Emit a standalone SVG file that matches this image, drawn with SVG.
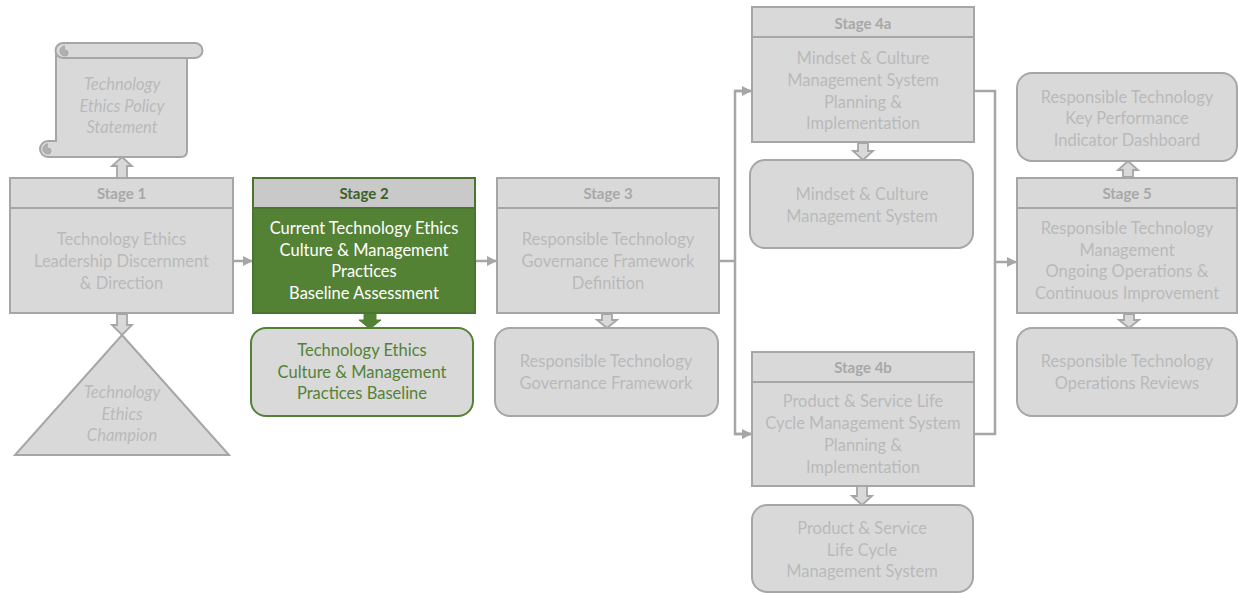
<svg xmlns="http://www.w3.org/2000/svg" width="1238" height="593" viewBox="0 0 1238 593">
<defs>
<style>
.box{fill:#d9d9d9;stroke:#a6a6a6;stroke-width:2}
.hdr{font-family:Lato,"Open Sans",sans-serif;font-weight:bold;font-size:15px;fill:#a8a8a8;text-anchor:middle}
.txt{font-family:Lato,"Open Sans",sans-serif;font-size:16.5px;fill:#b9b9b9;text-anchor:middle}
.it{font-style:italic}
.conn{fill:none;stroke:#a6a6a6;stroke-width:2.5}
.barrow{fill:#d9d9d9;stroke:#a6a6a6;stroke-width:1.8}
</style>
<marker id="ah" viewBox="0 0 10 10" refX="9" refY="5" markerWidth="4" markerHeight="4" orient="auto" markerUnits="strokeWidth">
<path d="M0,0 L10,5 L0,10 Z" fill="#a6a6a6"/>
</marker>
</defs>
<rect width="1238" height="593" fill="#ffffff"/>

<g id="connectors">
<line class="conn" x1="233" y1="261" x2="252" y2="261" marker-end="url(#ah)"/>
<line class="conn" x1="475" y1="261" x2="496" y2="261" marker-end="url(#ah)"/>
<polyline class="conn" points="719,261 735,261"/>
<polyline class="conn" points="751,91 735,91 735,434 751,434" stroke-linejoin="miter"/>
<line class="conn" x1="735" y1="91" x2="751" y2="91" marker-end="url(#ah)"/>
<line class="conn" x1="735" y1="434" x2="751" y2="434" marker-end="url(#ah)"/>
<polyline class="conn" points="974,91 995,91 995,434 974,434"/>
<line class="conn" x1="995" y1="262" x2="1016" y2="262" marker-end="url(#ah)"/>
<path class="barrow" d="M117,178 L117,166 L112,166 L122,157 L132,166 L127,166 L127,178 Z"/>
<path class="barrow" d="M117,314 L127,314 L127,325 L132,325 L122,335 L112,325 L117,325 Z"/>
<path d="M364,313 L376,313 L376,320 L381,320 L370,329 L359,320 L364,320 Z" fill="#548235" stroke="#548235" stroke-width="1"/>
<path class="barrow" d="M602,314 L612,314 L612,320 L617,320 L607,328 L597,320 L602,320 Z"/>
<path class="barrow" d="M858,143 L868,143 L868,151 L873,151 L863,160 L853,151 L858,151 Z"/>
<path class="barrow" d="M857,486 L867,486 L867,496 L872,496 L862,505 L852,496 L857,496 Z"/>
<path class="barrow" d="M1123,177 L1123,170 L1118,170 L1128,161 L1138,170 L1133,170 L1133,177 Z"/>
<path class="barrow" d="M1124,314 L1134,314 L1134,320 L1139,320 L1129,328 L1119,320 L1124,320 Z"/>
</g>

<g id="policy-statement">
<path class="box" d="M56,52 L187,52 L187,151 Q187,157 181,157 L48,157 A8,8 0 0 1 48,141 L56,141 Z"/>
<path d="M48,144 A5,5 0 0 0 48,154 A3,3 0 0 0 48,148" fill="#b0b0b0" stroke="#a6a6a6" stroke-width="1"/>
<path class="box" d="M63,43 L195,43 A7.5,7.5 0 0 1 195,58 L63,58 A7.5,7.5 0 0 1 63,43 Z"/>
<path d="M65,46 A5,5 0 0 0 65,56 A3,3 0 0 0 65,50" fill="#b0b0b0" stroke="#a6a6a6" stroke-width="1"/>
<text class="txt it" x="122" y="90">Technology</text>
<text class="txt it" x="122" y="111.5">Ethics Policy</text>
<text class="txt it" x="122" y="133">Statement</text>
</g>

<g id="stage1">
<rect class="box" x="10" y="178" width="223" height="30"/>
<rect class="box" x="10" y="208" width="223" height="105"/>
<text class="hdr" x="121.5" y="199">Stage 1</text>
<text class="txt" x="121.5" y="245">Technology Ethics</text>
<text class="txt" x="121.5" y="267">Leadership Discernment</text>
<text class="txt" x="121.5" y="289">&amp; Direction</text>
</g>

<g id="ethics-champion">
<path class="box" d="M122,335 L229,455 L15,455 Z"/>
<text class="txt it" x="122" y="398">Technology</text>
<text class="txt it" x="122" y="420">Ethics</text>
<text class="txt it" x="122" y="441">Champion</text>
</g>

<g id="stage2">
<rect x="253" y="178" width="222" height="30" fill="#c9c9c9" stroke="#4a7530" stroke-width="2"/>
<rect x="253" y="208" width="222" height="105" fill="#548235" stroke="#4a7530" stroke-width="2"/>
<text class="hdr" x="364" y="199" style="fill:#3d5f28">Stage 2</text>
<text class="txt" x="364" y="234" style="fill:#ffffff">Current Technology Ethics</text>
<text class="txt" x="364" y="256" style="fill:#ffffff">Culture &amp; Management</text>
<text class="txt" x="364" y="277" style="fill:#ffffff">Practices</text>
<text class="txt" x="364" y="299" style="fill:#ffffff">Baseline Assessment</text>
</g>

<g id="stage2-output">
<rect x="251" y="328" width="222" height="88" rx="15" fill="#d9d9d9" stroke="#548235" stroke-width="2"/>
<text class="txt" x="362" y="356" style="fill:#548235">Technology Ethics</text>
<text class="txt" x="362" y="377.5" style="fill:#548235">Culture &amp; Management</text>
<text class="txt" x="362" y="399" style="fill:#548235">Practices Baseline</text>
</g>

<g id="stage3">
<rect class="box" x="497" y="178" width="222" height="30"/>
<rect class="box" x="497" y="208" width="222" height="105"/>
<text class="hdr" x="608" y="199">Stage 3</text>
<text class="txt" x="608" y="245">Responsible Technology</text>
<text class="txt" x="608" y="267">Governance Framework</text>
<text class="txt" x="608" y="289">Definition</text>
</g>

<g id="stage3-output">
<rect class="box" x="495" y="328" width="223" height="88" rx="15"/>
<text class="txt" x="606" y="366.5">Responsible Technology</text>
<text class="txt" x="606" y="388.5">Governance Framework</text>
</g>

<g id="stage4a">
<rect class="box" x="752" y="7" width="222" height="30"/>
<rect class="box" x="752" y="37" width="222" height="105"/>
<text class="hdr" x="863" y="28.5">Stage 4a</text>
<text class="txt" x="863" y="64">Mindset &amp; Culture</text>
<text class="txt" x="863" y="86">Management System</text>
<text class="txt" x="863" y="108">Planning &amp;</text>
<text class="txt" x="863" y="129">Implementation</text>
</g>

<g id="stage4a-output">
<rect class="box" x="750" y="160" width="223" height="88" rx="15"/>
<text class="txt" x="862" y="200">Mindset &amp; Culture</text>
<text class="txt" x="862" y="222">Management System</text>
</g>

<g id="stage4b">
<rect class="box" x="752" y="352" width="222" height="30"/>
<rect class="box" x="752" y="382" width="222" height="104"/>
<text class="hdr" x="863" y="372.5">Stage 4b</text>
<text class="txt" x="863" y="407">Product &amp; Service Life</text>
<text class="txt" x="863" y="429">Cycle Management System</text>
<text class="txt" x="863" y="451">Planning &amp;</text>
<text class="txt" x="863" y="472.5">Implementation</text>
</g>

<g id="stage4b-output">
<rect class="box" x="752" y="505" width="221" height="87" rx="15"/>
<text class="txt" x="862" y="533.5">Product &amp; Service</text>
<text class="txt" x="862" y="555.5">Life Cycle</text>
<text class="txt" x="862" y="577">Management System</text>
</g>

<g id="kpi-dashboard">
<rect class="box" x="1017" y="73" width="220" height="88" rx="15"/>
<text class="txt" x="1127" y="102.5">Responsible Technology</text>
<text class="txt" x="1127" y="124">Key Performance</text>
<text class="txt" x="1127" y="145.5">Indicator Dashboard</text>
</g>

<g id="stage5">
<rect class="box" x="1017" y="178" width="220" height="30"/>
<rect class="box" x="1017" y="208" width="220" height="105"/>
<text class="hdr" x="1127" y="199">Stage 5</text>
<text class="txt" x="1127" y="234">Responsible Technology</text>
<text class="txt" x="1127" y="256">Management</text>
<text class="txt" x="1127" y="277">Ongoing Operations &amp;</text>
<text class="txt" x="1127" y="299">Continuous Improvement</text>
</g>

<g id="operations-reviews">
<rect class="box" x="1017" y="328" width="220" height="88" rx="15"/>
<text class="txt" x="1127" y="366.5">Responsible Technology</text>
<text class="txt" x="1127" y="388.5">Operations Reviews</text>
</g>
</svg>
